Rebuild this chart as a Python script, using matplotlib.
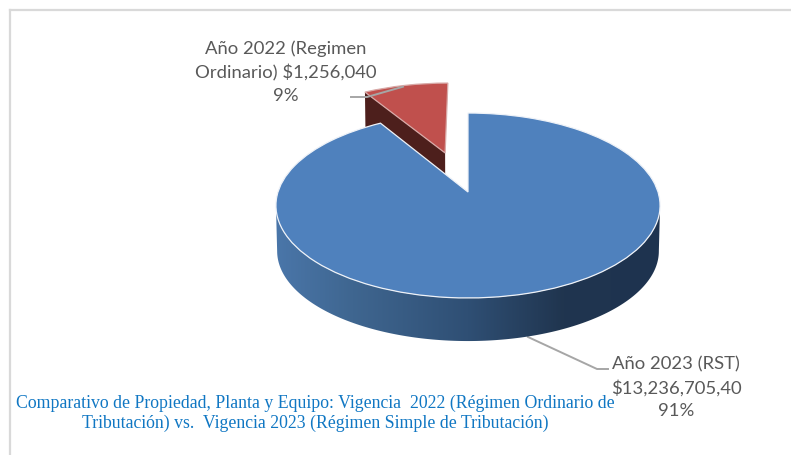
import numpy as np
import matplotlib
matplotlib.use("Agg")
import matplotlib.pyplot as plt
from matplotlib.colors import LinearSegmentedColormap
from matplotlib.patches import Polygon
from matplotlib.transforms import Transform

# ---- data ----
categories = ["Año 2022 (Regimen\nOrdinario) $1,256,040\n9%", "Año 2023 (RST)\n$13,236,705,40\n91%"]
values = [1256040, 13236705.40]
title_text = ("Comparativo de Propiedad, Planta y Equipo: Vigencia  2022 (Régimen Ordinario de\n"
              "Tributación) vs.  Vigencia 2023 (Régimen Simple de Tributación)")
explode = [0.478, 0]

W, H = 791, 455
BLUE, RED, RED_DARK = "#4f81bd", "#c0504d", "#4d1f1c"
GREY, LEADER, FRAME = "#595959", "#a6a6a6", "#d9d9d9"


class Perspective(Transform):
    """Tilted-disc projection of the unit pie to pixel coordinates."""
    input_dims = output_dims = 2

    def __init__(self, cx, cy, c=190.0, a=90.5, k=0.146):
        super().__init__()
        self.p = (cx, cy, c, a, k)

    def transform_non_affine(self, xy):
        xy = np.asarray(xy, dtype=float)
        cx, cy, c, a, k = self.p
        d = 1 + k * xy[:, 1]
        return np.column_stack([cx + c * xy[:, 0] / d, cy - a * xy[:, 1] / d])


fig = plt.figure(figsize=(W / 100, H / 100), dpi=100)
ax = fig.add_axes([0, 0, 1, 1])

wedges, _ = ax.pie(values, explode=explode, startangle=90, radius=1,
                   colors=[RED, BLUE], wedgeprops=dict(linewidth=0.9))
ax.set_aspect("auto")
ax.set_xlim(0, W)
ax.set_ylim(H, 0)
ax.set_axis_off()

top = Perspective(468, 192)
bottom = Perspective(468, 238, c=188.8, a=88.0)

red, blue = wedges
for w, ec, z in ((red, "#d8a9a7", 3), (blue, "#eef2f8", 6)):
    w.set_transform(top + ax.transData)
    w.set_edgecolor(ec)
    w.set_zorder(z)

# side wall of the exploded slice
cx, cy = red.center
t2 = np.deg2rad(red.theta2)
rim = np.array([[cx, cy], [cx + np.cos(t2), cy + np.sin(t2)]])
ax.add_patch(Polygon(np.vstack([top.transform(rim), bottom.transform(rim)[::-1]]),
                     closed=True, fc=RED_DARK, ec="none", zorder=2))

# front wall of the large slice with its horizontal shading
th = np.deg2rad(np.linspace(188.4, 351.6, 240))
ring = np.column_stack([np.cos(th), np.sin(th)])
wall = Polygon(np.vstack([top.transform(ring), bottom.transform(ring)[::-1]]),
               closed=True, transform=ax.transData, fc="none", ec="none")
ax.add_patch(wall)
shade = LinearSegmentedColormap.from_list(
    "side", [(0, "#4a76a9"), (0.2, "#3f6690"), (0.5, "#2f4f74"), (0.75, "#20354f"), (1, "#1e3350")])
im = ax.imshow(np.linspace(0, 1, 256)[None, :], extent=(276, 660, 360, 190), cmap=shade,
               aspect="auto", zorder=5, interpolation="bilinear")
im.set_clip_path(wall)
ax.set_xlim(0, W)
ax.set_ylim(H, 0)

# leader lines
ax.plot([351, 367, 403], [97, 97, 86.7], color=LEADER, lw=1.4, zorder=7, solid_joinstyle="round")
ax.plot([528, 597, 608], [337, 369, 369], color=LEADER, lw=1.4, zorder=4, solid_joinstyle="round")

# frame
ax.plot([10, W], [10, 10], color=FRAME, lw=1.6, zorder=1)
ax.plot([10, 10], [10, H], color=FRAME, lw=1.6, zorder=1)

# labels
label_font = dict(family="Lato", fontsize=13.3, color=GREY, ha="center", va="center", linespacing=1.52)
ax.text(286, 72, categories[0], **label_font)
ax.text(676, 388, categories[1], **label_font)
ax.text(315, 413.5, title_text, family="Liberation Serif", fontsize=12.75, color="#1077c3",
        ha="center", va="center", linespacing=1.22)

fig.savefig("out.png", dpi=100, facecolor="white")
